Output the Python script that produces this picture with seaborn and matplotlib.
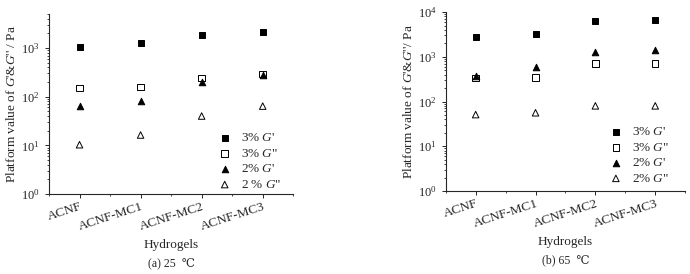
import matplotlib
matplotlib.use("Agg")
import numpy as np
import pandas as pd
import seaborn as sns
from matplotlib import pyplot as plt
from matplotlib.ticker import MultipleLocator, LogLocator, NullFormatter

categories = ["ACNF", "ACNF-MC1", "ACNF-MC2", "ACNF-MC3"]

# (a) 25 C
g1_3 = [1030, 1270, 1850, 2130]
g2_3 = [152, 158, 240, 292]
g1_2 = [64, 80, 203, 280]
g2_2 = [10.3, 16.3, 40, 64]

# (b) 65 C
g1_3_b = [2800, 3160, 6400, 6700]
g2_3_b = [333, 345, 710, 710]
g1_2_b = [363, 590, 1260, 1400]
g2_2_b = [51, 56, 80, 80]

labels_a = [r"3% $\mathit{G}$'", r'3% $\mathit{G}$"', r"2% $\mathit{G}$'", r'2 % $\mathit{G}$"']
labels_b = [r"3% $\mathit{G}$'", r'3% $\mathit{G}$"', r"2% $\mathit{G}$'", r'2% $\mathit{G}$"']

sns.set_style("ticks")
plt.rcParams["font.family"] = ["Liberation Serif", "DejaVu Serif"]
plt.rcParams["mathtext.fontset"] = "custom"
plt.rcParams["mathtext.rm"] = "Liberation Serif"
plt.rcParams["mathtext.it"] = "Liberation Serif:italic"
plt.rcParams["font.size"] = 9

styles = [("s", "black"), ("s", "none"), ("^", "black"), ("^", "none")]

fig = plt.figure(figsize=(6.9, 2.74), dpi=100)
ax_a = fig.add_axes([0.071, 0.292, 0.354, 0.657])
ax_b = fig.add_axes([0.646, 0.303, 0.347, 0.653])


def draw(ax, series, labels, ytop, ylabel, caption, cap_y, leg_anchor):
    for vals, lab, (m, fc) in zip(series, labels, styles):
        df = pd.DataFrame({"x": np.arange(len(categories)), "y": vals})
        sns.scatterplot(data=df, x="x", y="y", ax=ax, marker=m, s=22,
                        facecolor=fc, edgecolor="black", linewidth=0.7,
                        label=lab)
    ax.set_yscale("log")
    ax.set_ylim(1, ytop)
    ax.set_xlim(-0.5, 3.5)
    ax.set_xticks(range(len(categories)))
    ax.set_xticklabels(categories, rotation=18, ha="right",
                       rotation_mode="anchor", fontsize=9.5)
    ax.xaxis.set_minor_locator(MultipleLocator(0.5))
    ax.yaxis.set_major_locator(LogLocator(base=10, numticks=10))
    ax.yaxis.set_minor_locator(LogLocator(base=10, subs=np.arange(2, 10), numticks=10))
    ax.yaxis.set_minor_formatter(NullFormatter())
    ax.tick_params(axis="both", which="major", length=3, width=0.7, labelsize=9)
    ax.tick_params(axis="both", which="minor", length=1.5, width=0.6)
    ax.tick_params(axis="x", labelsize=9.5, pad=2)
    for s in ["top", "right"]:
        ax.spines[s].set_visible(False)
    for s in ["left", "bottom"]:
        ax.spines[s].set_linewidth(0.8)
    ax.set_xlabel("Hydrogels", fontsize=9.5, labelpad=4)
    ax.set_ylabel(ylabel, fontsize=9.5, labelpad=2)
    ax.text(0.5, cap_y, caption, transform=ax.transAxes, ha="center",
            va="center", fontsize=8.5)
    ax.legend(loc="upper left", bbox_to_anchor=leg_anchor, frameon=False,
              fontsize=9.5, handletextpad=0.6, labelspacing=0.25,
              borderpad=0, handlelength=1.2)


draw(ax_a, [g1_3, g2_3, g1_2, g2_2], labels_a, 10 ** 3.7,
     r"Platform value of $\mathit{G}$'&$\mathit{G}$'' / Pa", "(a) 25  \u2103",
     -0.39, (0.66, 0.38))
draw(ax_b, [g1_3_b, g2_3_b, g1_2_b, g2_2_b], labels_b, 1e4,
     r"Platform value of $\mathit{G}$'&$\mathit{G}$''/ Pa", "(b) 65  \u2103",
     -0.385, (0.65, 0.40))

fig.savefig("out.png", dpi=100)
